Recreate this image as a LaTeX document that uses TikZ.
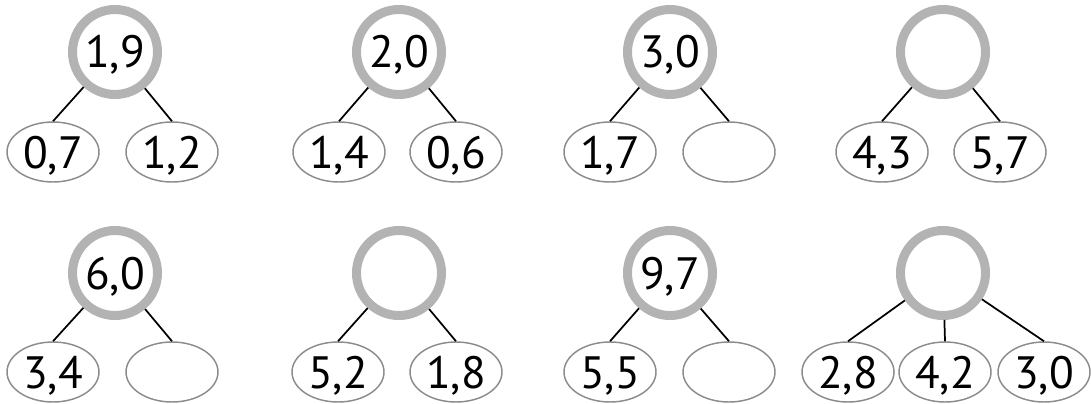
\documentclass[tikz,border=0pt]{standalone}
\usepackage{fontspec}
\setmainfont{PT Sans}
\usetikzlibrary{shapes.geometric}
\definecolor{ringgray}{RGB}{179,179,179}
\definecolor{ellgray}{RGB}{140,140,140}
\tikzset{
  whole/.style={circle,draw=ringgray,line width=6.75pt,minimum size=63.75pt,inner sep=0pt,
    font=\fontsize{34}{34}\selectfont,text height=27pt,text depth=3pt},
  part/.style={ellipse,draw=ellgray,line width=1.1pt,minimum width=69pt,minimum height=45pt,inner sep=0pt,
    font=\fontsize{34}{34}\selectfont,text height=27pt,text depth=3pt},
  link/.style={draw=black,line width=1.3pt}
}
\begin{document}
\begin{tikzpicture}[x=0.75pt,y=-0.75pt]
\useasboundingbox (0,0) rectangle (1091,403);
% row 1
\node[whole] (c1) at (115,52) {1,9};
\node[part] (a1) at (53,152) {0,7};
\node[part] (b1) at (172,152) {1,2};
\node[whole] (c2) at (399,52) {2,0};
\node[part] (a2) at (339,152) {1,4};
\node[part] (b2) at (456,152) {0,6};
\node[whole] (c3) at (670,52) {3,0};
\node[part] (a3) at (610,152) {1,7};
\node[part] (b3) at (729,152) {};
\node[whole] (c4) at (943,52) {};
\node[part] (a4) at (882,152) {4,3};
\node[part] (b4) at (1000,152) {5,7};
% row 2
\node[whole] (c5) at (115,273) {6,0};
\node[part] (a5) at (53,372) {3,4};
\node[part] (b5) at (172,372) {};
\node[whole] (c6) at (399,273) {};
\node[part] (a6) at (338,372) {5,2};
\node[part] (b6) at (456,372) {1,8};
\node[whole] (c7) at (670,273) {9,7};
\node[part] (a7) at (610,372) {5,5};
\node[part] (b7) at (729,372) {};
\node[whole] (c8) at (943,273) {};
\node[part] (a8) at (848,372) {2,8};
\node[part] (m8) at (945,372) {4,2};
\node[part] (b8) at (1044,372) {3,0};
% connectors
\foreach \i in {1,...,8}{
  \draw[link] (c\i) -- (a\i.north);
  \draw[link] (c\i) -- (b\i.north);
}
\draw[link] (c8) -- (m8.north);
\end{tikzpicture}
\end{document}
